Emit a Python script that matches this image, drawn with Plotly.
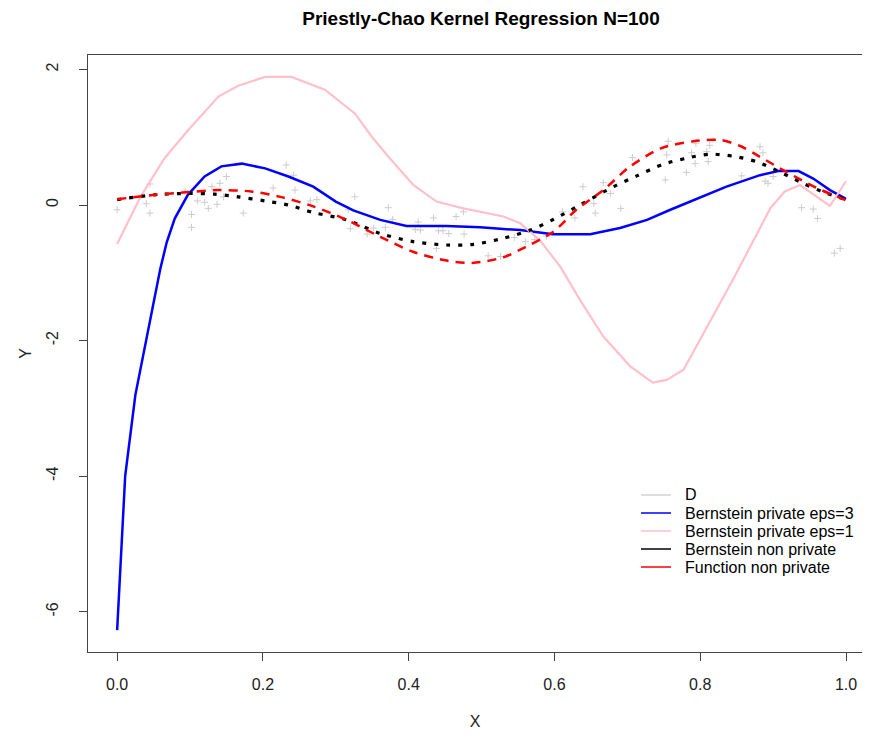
import plotly.graph_objects as go

# ---------------- data ----------------
d_x = [0.000, 0.040, 0.045, 0.045, 0.093, 0.102, 0.102, 0.110, 0.120, 0.125, 0.130, 0.137,
       0.141, 0.146, 0.150, 0.173, 0.214, 0.232, 0.242, 0.244, 0.265, 0.274, 0.317, 0.320,
       0.326, 0.343, 0.352, 0.368, 0.372, 0.378, 0.409, 0.413, 0.416, 0.434, 0.438, 0.441,
       0.447, 0.455, 0.465, 0.475, 0.476, 0.509, 0.526, 0.545, 0.560, 0.573, 0.589, 0.611,
       0.628, 0.639, 0.654, 0.656, 0.667, 0.677, 0.691, 0.707, 0.752, 0.754, 0.756, 0.781,
       0.788, 0.793, 0.794, 0.809, 0.811, 0.813, 0.857, 0.882, 0.886, 0.889, 0.893, 0.900,
       0.939, 0.955, 0.961, 0.984, 0.992]
d_y = [-0.07, 0.02, 0.31, -0.12, 0.20, -0.14, -0.33, 0.06, 0.04, -0.05, 0.27, 0.01,
       0.32, 0.12, 0.42, -0.12, 0.25, 0.59, 0.44, 0.22, 0.06, 0.08, -0.07, -0.35,
       0.12, -0.43, -0.34, -0.33, -0.04, -0.21, -0.36, -0.25, -0.37, -0.19, -0.64, -0.38,
       -0.38, -0.42, -0.17, -0.10, -0.43, -0.75, -0.76, -0.48, -0.54, -0.51, -0.46, -0.10,
       -0.19, 0.27, 0.02, -0.12, 0.33, 0.17, -0.05, 0.70, 0.37, 0.74, 0.94, 0.48,
       0.77, 0.61, 0.91, 0.79, 0.64, 0.88, 0.43, 0.86, 0.77, 0.35, 0.32, 0.42,
       -0.04, -0.06, -0.20, -0.71, -0.64]

eps3_x = [0.0, 0.011, 0.025, 0.040, 0.050, 0.059, 0.068, 0.079, 0.097, 0.120, 0.143, 0.171,
          0.203, 0.235, 0.269, 0.300, 0.324, 0.361, 0.397, 0.452, 0.498, 0.553, 0.598, 0.649,
          0.690, 0.727, 0.759, 0.790, 0.836, 0.882, 0.907, 0.935, 0.955, 0.978, 1.0]
eps3_y = [-6.27, -4.0, -2.8, -2.0, -1.45, -0.95, -0.55, -0.2, 0.15, 0.42, 0.57, 0.61,
          0.54, 0.42, 0.27, 0.05, -0.08, -0.22, -0.31, -0.31, -0.33, -0.37, -0.43, -0.43,
          -0.34, -0.22, -0.07, 0.07, 0.27, 0.44, 0.50, 0.50, 0.39, 0.22, 0.09]

eps1_x = [0.0, 0.032, 0.065, 0.097, 0.139, 0.166, 0.203, 0.239, 0.285, 0.326, 0.350, 0.374,
          0.406, 0.438, 0.475, 0.500, 0.530, 0.553, 0.580, 0.608, 0.635, 0.667, 0.704, 0.735,
          0.754, 0.777, 0.809, 0.845, 0.896, 0.916, 0.937, 0.978, 1.0]
eps1_y = [-0.575, 0.12, 0.69, 1.10, 1.60, 1.76, 1.89, 1.89, 1.70, 1.35, 1.00, 0.69,
          0.30, 0.05, -0.05, -0.10, -0.17, -0.27, -0.52, -0.91, -1.40, -1.94, -2.38, -2.62,
          -2.58, -2.43, -1.80, -1.10, -0.05, 0.20, 0.295, -0.015, 0.35]

np_x = [0.0, 0.052, 0.097, 0.134, 0.166, 0.203, 0.235, 0.269, 0.315, 0.361, 0.406, 0.452,
        0.489, 0.530, 0.567, 0.599, 0.635, 0.681, 0.713, 0.749, 0.781, 0.813, 0.845, 0.877,
        0.909, 0.941, 0.974, 1.0]
np_y = [0.08, 0.15, 0.17, 0.16, 0.12, 0.06, 0.0, -0.11, -0.22, -0.42, -0.54, -0.59,
        -0.58, -0.49, -0.37, -0.21, 0.0, 0.27, 0.43, 0.60, 0.69, 0.75, 0.72, 0.64,
        0.49, 0.32, 0.17, 0.08]

fn_x = [0.0, 0.052, 0.097, 0.139, 0.184, 0.224, 0.269, 0.315, 0.361, 0.406, 0.452, 0.487,
        0.530, 0.562, 0.599, 0.630, 0.667, 0.704, 0.747, 0.791, 0.827, 0.855, 0.882, 0.918,
        0.960, 1.0]
fn_y = [0.085, 0.15, 0.19, 0.22, 0.20, 0.12, -0.02, -0.22, -0.47, -0.69, -0.82, -0.855,
        -0.77, -0.61, -0.39, -0.07, 0.22, 0.57, 0.84, 0.94, 0.96, 0.87, 0.71, 0.49,
        0.25, 0.07]

x_ticks = [0.0, 0.2, 0.4, 0.6, 0.8, 1.0]
x_ticklabels = ["0.0", "0.2", "0.4", "0.6", "0.8", "1.0"]
y_ticks = [2, 0, -2, -4, -6]
y_ticklabels = ["2", "0", "-2", "-4", "-6"]

legend_labels = ["D", "Bernstein private eps=3", "Bernstein private eps=1",
                 "Bernstein non private", "Function non private"]
legend_colors = ["#d3d3d3", "#0000ff", "#ffc0cb", "#000000", "#ff0000"]

# ---------------- layout geometry (page pixels) ----------------
OFF = 8                      # default body margin of the html page
PAGE_W, PAGE_H = 870, 738
W, H = PAGE_W - 2 * OFF, PAGE_H - 2 * OFF
L, R, T, B = 88, PAGE_W - OFF, 55, 652   # plot area in page px
FONT = "Arial, Liberation Sans, Helvetica, sans-serif"

fig = go.Figure()
fig.add_trace(go.Scatter(x=d_x, y=d_y, mode="markers", showlegend=False,
                         marker=dict(symbol="cross-thin", size=5,
                                     line=dict(color="#cccccc", width=1))))
fig.add_trace(go.Scatter(x=eps3_x, y=eps3_y, mode="lines", showlegend=False,
                         line=dict(color="#0000ff", width=2.5)))
fig.add_trace(go.Scatter(x=eps1_x, y=eps1_y, mode="lines", showlegend=False,
                         line=dict(color="#ffc0cb", width=2.2)))
fig.add_trace(go.Scatter(x=np_x, y=np_y, mode="lines", showlegend=False,
                         line=dict(color="#000000", width=3.2, dash="4px,8px",
                                   shape="spline", smoothing=0.8)))
fig.add_trace(go.Scatter(x=fn_x, y=fn_y, mode="lines", showlegend=False,
                         line=dict(color="#ff0000", width=2.5, dash="9px,7px",
                                   shape="spline", smoothing=0.8)))


def px2paper_x(px):
    return (px - L) / (R - L)


def px2paper_y(py):
    return (B - py) / (B - T)


# manual legend (R style, no box)
shapes = []
annotations = []
row_y = [495, 513, 531, 549, 567]
for lab, col, ry in zip(legend_labels, legend_colors, row_y):
    shapes.append(dict(type="line", xref="paper", yref="paper",
                       x0=px2paper_x(641), x1=px2paper_x(671),
                       y0=px2paper_y(ry), y1=px2paper_y(ry),
                       line=dict(color=col, width=1.5)))
    annotations.append(dict(text=lab, xref="paper", yref="paper",
                            x=px2paper_x(683), y=px2paper_y(ry),
                            xanchor="left", yanchor="middle", showarrow=False,
                            font=dict(family=FONT, size=16, color="#000")))

fig.update_layout(
    width=W, height=H,
    margin=dict(l=L - OFF, r=W - (R - OFF), t=T - OFF, b=H - (B - OFF), pad=0),
    paper_bgcolor="white", plot_bgcolor="white",
    showlegend=False,
    title=dict(text="<b>Priestly-Chao Kernel Regression N=100</b>",
               x=(481 - OFF) / W, xanchor="center",
               y=1 - (18 - OFF) / H, yanchor="middle",
               font=dict(family=FONT, size=19, color="#000")),
    font=dict(family=FONT, size=16, color="#000"),
    shapes=shapes,
    annotations=annotations,
)

fig.update_xaxes(range=[-0.04, (R - 117) / 729], showgrid=False, zeroline=False,
                 showline=True, linecolor="#444", linewidth=1, mirror=True,
                 ticks="outside", ticklen=8, tickcolor="#444", tickwidth=1,
                 tickvals=x_ticks, ticktext=x_ticklabels,
                 ticklabelstandoff=10,
                 tickfont=dict(family=FONT, size=16, color="#222"),
                 title=dict(text="X", standoff=23,
                            font=dict(family=FONT, size=16, color="#222")))
fig.update_yaxes(range=[(205 - B) / 67.8, (205 - T) / 67.8], showgrid=False, zeroline=False,
                 showline=True, linecolor="#444", linewidth=1, mirror=False,
                 ticks="outside", ticklen=8, tickcolor="#444", tickwidth=1,
                 tickvals=y_ticks, ticktext=y_ticklabels, tickangle=-90,
                 ticklabelstandoff=15,
                 tickfont=dict(family=FONT, size=16, color="#222"),
                 title=dict(text="Y", standoff=7,
                            font=dict(family=FONT, size=16, color="#222")))

fig.write_html("out.html")
